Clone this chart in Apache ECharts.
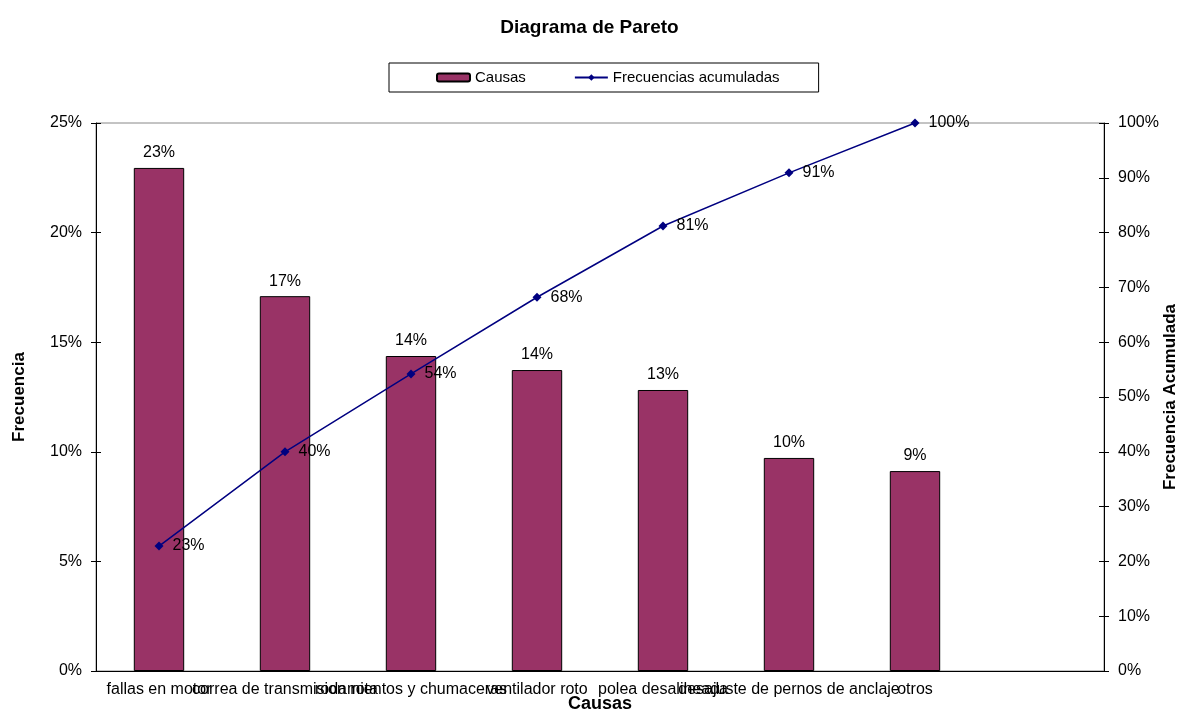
<!DOCTYPE html>
<html>
<head>
<meta charset="utf-8">
<title>Diagrama de Pareto</title>
<script src="https://cdn.jsdelivr.net/npm/echarts@6/dist/echarts.min.js"></script>
<style>
  html, body { margin: 0; padding: 0; background: #fff; }
  #chart { width: 1179px; height: 710px; }
</style>
</head>
<body>
<div id="chart"></div>
<script>
// categorias (la ultima ranura queda vacia, como en el original)
const causas = [
  'fallas en motor',
  'correa de transmision rota',
  'rodamientos y chumaceras',
  'ventilador roto',
  'polea desalineada',
  'desajuste de pernos de anclaje',
  'otros',
  ''
]
const frecuencia = [0.2295, 0.171, 0.1437, 0.1373, 0.1282, 0.0972, 0.0912, null]
const acumulada = [0.228, 0.400, 0.542, 0.682, 0.812, 0.909, 1.0, null]

const font = 'Arial, "Liberation Sans", sans-serif'
const pct = v => Math.round(v * 100) + '%'

const chart = echarts.init(document.getElementById('chart'))

// ejes extra solo para que las marcas crucen el eje (estilo Excel)
const tickOnly = (min, max, interval, position) => ({
  type: 'value',
  min, max, interval, position,
  axisLine: { show: false },
  axisTick: { show: true, inside: true, length: 5, lineStyle: { color: '#000' } },
  axisLabel: { show: false },
  splitLine: { show: false }
})

const option = {
  backgroundColor: '#fff',
  animation: false,
  textStyle: { fontFamily: font, color: '#000' },
  title: {
    text: 'Diagrama de Pareto',
    left: 'center',
    top: 13,
    textStyle: { fontSize: 19, fontWeight: 'bold', fontFamily: font, color: '#000' }
  },
  legend: {
    top: 63,
    left: 389,
    itemWidth: 33,
    itemHeight: 8,
    itemGap: 48,
    padding: [7, 39, 7, 47],
    borderColor: '#000',
    borderWidth: 1,
    textStyle: { fontSize: 15, fontFamily: font, color: '#000' },
    data: ['Causas', 'Frecuencias acumuladas']
  },
  grid: {
    left: 96,
    right: 75,
    top: 123,
    bottom: 39,
    outerBoundsMode: 'none',
    show: true,
    borderColor: '#888',
    borderWidth: 1
  },
  xAxis: {
    type: 'category',
    data: causas,
    boundaryGap: true,
    name: 'Causas',
    nameLocation: 'middle',
    nameGap: 24,
    nameMoveOverlap: false,
    nameTextStyle: { fontSize: 18, fontWeight: 'bold', color: '#000' },
    axisLine: { lineStyle: { color: '#000' } },
    axisTick: { interval: 1, length: 6, lineStyle: { color: '#000' } },
    axisLabel: { interval: 0, fontSize: 16, color: '#000', margin: 11, hideOverlap: false }
  },
  yAxis: [
    {
      type: 'value',
      min: 0,
      max: 0.25,
      interval: 0.05,
      name: 'Frecuencia',
      nameLocation: 'middle',
      nameGap: 68,
      nameMoveOverlap: false,
      nameTextStyle: { fontSize: 17, fontWeight: 'bold', color: '#000' },
      axisLine: { show: true, lineStyle: { color: '#000' } },
      axisTick: { show: true, length: 5, lineStyle: { color: '#000' } },
      axisLabel: { fontSize: 16, color: '#000', margin: 14, formatter: pct },
      splitLine: { show: false }
    },
    {
      type: 'value',
      min: 0,
      max: 1,
      interval: 0.1,
      name: 'Frecuencia Acumulada',
      nameLocation: 'middle',
      nameGap: 58,
      nameMoveOverlap: false,
      nameTextStyle: { fontSize: 17, fontWeight: 'bold', color: '#000' },
      axisLine: { show: true, lineStyle: { color: '#000' } },
      axisTick: { show: true, length: 5, lineStyle: { color: '#000' } },
      axisLabel: { fontSize: 16, color: '#000', margin: 14, formatter: pct },
      splitLine: { show: false }
    },
    tickOnly(0, 0.25, 0.05, 'left'),
    tickOnly(0, 1, 0.1, 'right')
  ],
  series: [
    {
      name: 'Causas',
      type: 'bar',
      data: frecuencia,
      barWidth: '40%',
      itemStyle: { color: '#993366', borderColor: '#000', borderWidth: 1 },
      label: {
        show: true,
        position: 'top',
        distance: 7,
        fontSize: 16,
        color: '#000',
        formatter: p => pct(p.value)
      }
    },
    {
      name: 'Frecuencias acumuladas',
      type: 'line',
      yAxisIndex: 1,
      data: acumulada,
      symbol: 'diamond',
      symbolSize: 9,
      lineStyle: { color: '#000080', width: 1.5 },
      itemStyle: { color: '#000080' },
      label: {
        show: true,
        position: 'right',
        distance: 9,
        fontSize: 16,
        color: '#000',
        formatter: p => pct(p.value)
      }
    }
  ]
}

chart.setOption(option)
</script>
</body>
</html>
